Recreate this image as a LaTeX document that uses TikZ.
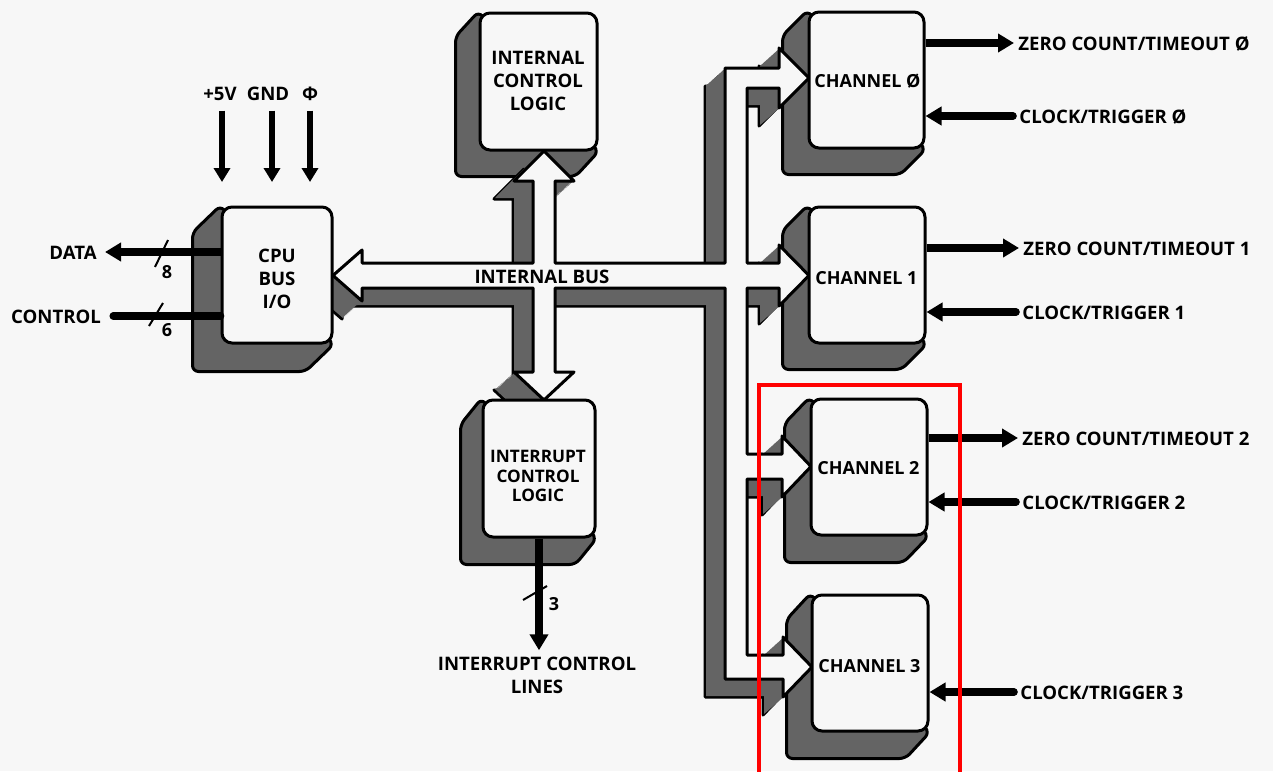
\documentclass[tikz,border=0pt]{standalone}
\usepackage{fontspec}
\setmainfont{Open Sans}
\usetikzlibrary{arrows.meta,calc,fit}
\definecolor{paper}{RGB}{247,247,247}
\definecolor{darkgr}{RGB}{100,100,100}
\pgfdeclarelayer{back}\pgfdeclarelayer{shad}\pgfdeclarelayer{busl}
\pgfsetlayers{back,shad,busl,main}
\newcommand\dropshade[3]{\filldraw[shadowst] (#1.north west) -- ++(#2,#3) -- ($(#1.south west)+(#2,#3)$) -- ($(#1.south east)+(#2,#3)$) -- (#1.south east) -- cycle;}
\begin{document}
\begin{tikzpicture}[x=0.5pt,y=-0.5pt,
  lbl/.style={font=\bfseries\fontsize{9.3}{11}\selectfont, inner sep=0pt, text height=0.72em, text depth=0pt},
  chl/.style={font=\bfseries\fontsize{9}{11}\selectfont, inner sep=0pt, text height=0.72em, text depth=0pt},
  mlbl/.style={font=\bfseries\fontsize{9.3}{11.5}\selectfont, inner sep=0pt, align=center},
  boxtxt/.style={font=\bfseries\fontsize{9.3}{11.5}\selectfont, align=center, inner sep=0pt},
  front/.style={draw=black, line width=1.5pt, fill=paper, rounded corners=5pt, inner sep=0pt},
  shadowst/.style={draw=black, line width=1.5pt, fill=darkgr, rounded corners=3pt, line join=round},
  sig/.style={line width=3.8pt, -{Triangle[length=8pt,width=9pt]}},
  bar/.style={line width=3.8pt},
  pw/.style={line width=3pt, -{Triangle[length=7pt,width=8pt]}},
  slash/.style={line width=1pt},
  num/.style={font=\bfseries\fontsize{9}{10}\selectfont, inner sep=0pt},
  buspath/.style={insert path={(333,275.5) -- (362,250) -- (362,263) -- (533,263) -- (533,181) -- (514,181) -- (544,151) -- (574,181) -- (555,181) -- (555,263) -- (725,263) -- (725,68) -- (779,68) -- (779,48) -- (809,78) -- (779,108) -- (779,88) -- (747,88) -- (747,263) -- (779,263) -- (779,245) -- (809,275.5) -- (779,306) -- (779,288) -- (747,288) -- (747,454) -- (782,454) -- (782,436) -- (811,466.5) -- (782,497) -- (782,479) -- (747,479) -- (747,655) -- (783,655) -- (783,637) -- (812,667) -- (783,697) -- (783,679) -- (725,679) -- (725,288) -- (555,288) -- (555,372) -- (574,372) -- (544,400) -- (514,372) -- (533,372) -- (533,288) -- (362,288) -- (362,301) -- cycle}}
]
\begin{pgfonlayer}{back}
\fill[paper] (0,0) rectangle (1273,771);
\end{pgfonlayer}
\useasboundingbox (0,0) rectangle (1273,771);

% front boxes
\node[front, fit={(222,207) (332,343)}] (cpu) {};
\node[front, fit={(480,13) (597,150)}] (icl) {};
\node[front, fit={(483,400) (595,537)}] (intr) {};
\node[front, fit={(809,12) (924,148)}] (ch0) {};
\node[front, fit={(809,207) (925,343)}] (ch1) {};
\node[front, fit={(811,399) (927,535)}] (ch2) {};
\node[front, fit={(812,595) (928,731)}] (ch3) {};

% box texts
\node[boxtxt] (cput) at (277,279) {CPU\\BUS\\I/O};
\node[boxtxt] (iclt) at (538,81) {INTERNAL\\CONTROL\\LOGIC};
\node[boxtxt, font=\bfseries\fontsize{8.6}{9.6}\selectfont] (intrt) at (538,476) {INTERRUPT\\CONTROL\\LOGIC};
\node[chl, anchor=west] (ch0t) at (814,80) {CHANNEL Ø};
\node[chl, anchor=west] (ch1t) at (815,277) {CHANNEL 1};
\node[chl, anchor=west] (ch2t) at (817,467) {CHANNEL 2};
\node[chl, anchor=west] (ch3t) at (818,665) {CHANNEL 3};

% shadows
\begin{pgfonlayer}{shad}
\dropshade{cpu}{-28}{27}
\dropshade{icl}{-23}{25}
\dropshade{intr}{-21}{26}
\dropshade{ch0}{-25}{25}
\dropshade{ch1}{-25}{25}
\dropshade{ch2}{-25}{26}
\dropshade{ch3}{-24}{26}
\end{pgfonlayer}

% internal bus
\begin{pgfonlayer}{busl}
\filldraw[fill=darkgr, draw=black, line width=1.5pt, line join=round, shift={(-20,18)}, buspath];
\foreach \i in {1,...,19}{\fill[darkgr, shift={(-\i,0.9*\i)}, buspath];}
\filldraw[fill=paper, draw=black, line width=1.5pt, line join=round, buspath];
\end{pgfonlayer}
\node[lbl] (ibus) at (542,276) {INTERNAL BUS};

% power inputs
\node[lbl] (p5) at (220,93) {+5V};
\node[lbl] (gnd) at (268,93) {GND};
\node[lbl] (phi) at (310,93) {Φ};
\coordinate (pin5) at (222,182);
\coordinate (pingnd) at (272,182);
\coordinate (pinphi) at (310,182);
\draw[pw] (pin5 |- p5.south) ++(0,10) -- (pin5);
\draw[pw] (pingnd |- gnd.south) ++(0,10) -- (pingnd);
\draw[pw] (pinphi |- phi.south) ++(0,10) -- (pinphi);

% data / control
\node[lbl] (data) at (73,252) {DATA};
\node[lbl] (control) at (56,316) {CONTROL};
\draw[sig, shorten >=4pt] (cpu.west |- data) -- (data.east);
\draw[bar, line cap=round, shorten <=6pt] (control.east) -- (cpu.west |- control);
\draw[slash] (155,267) -- (168,240);
\node[num] (n8) at (167,272) {8};
\draw[slash] (149,326) -- (163,303);
\node[num] (n6) at (167,330) {6};

% interrupt lines
\node[mlbl] (ict) at (537,675) {INTERRUPT CONTROL\\LINES};
\draw[sig, shorten >=3pt] (intr.south) -- (intr.south |- ict.north);
\draw[slash] (523,600) -- (547,586);
\node[num] (n3) at (554,604) {3};

% channel signals
\node[lbl, anchor=west] (zc0) at (1018,43) {ZERO COUNT/TIMEOUT Ø};
\node[lbl, anchor=west] (zc1) at (1023,248) {ZERO COUNT/TIMEOUT 1};
\node[lbl, anchor=west] (zc2) at (1022,438) {ZERO COUNT/TIMEOUT 2};
\node[lbl, anchor=west] (ct0) at (1019,116) {CLOCK/TRIGGER Ø};
\node[lbl, anchor=west] (ct1) at (1022,312) {CLOCK/TRIGGER 1};
\node[lbl, anchor=west] (ct2) at (1022,502) {CLOCK/TRIGGER 2};
\node[lbl, anchor=west] (ct3) at (1020,692) {CLOCK/TRIGGER 3};
\draw[sig, shorten >=2pt] (ch0.east |- zc0) -- (zc0.west);
\draw[sig, shorten >=2pt] (ch1.east |- zc1) -- (zc1.west);
\draw[sig, shorten >=2pt] (ch2.east |- zc2) -- (zc2.west);
\draw[sig, line cap=round, shorten <=3pt] (ct0.west) -- (ch0.east |- ct0);
\draw[sig, line cap=round, shorten <=3pt] (ct1.west) -- (ch1.east |- ct1);
\draw[sig, line cap=round, shorten <=3pt] (ct2.west) -- (ch2.east |- ct2);
\draw[sig, line cap=round, shorten <=3pt] (ct3.west) -- (ch3.east |- ct3);

% annotation frame
\draw[red, line width=1.6pt] (759,785) -- (759,385) -- (960,385) -- (960,785);
\end{tikzpicture}
\end{document}
